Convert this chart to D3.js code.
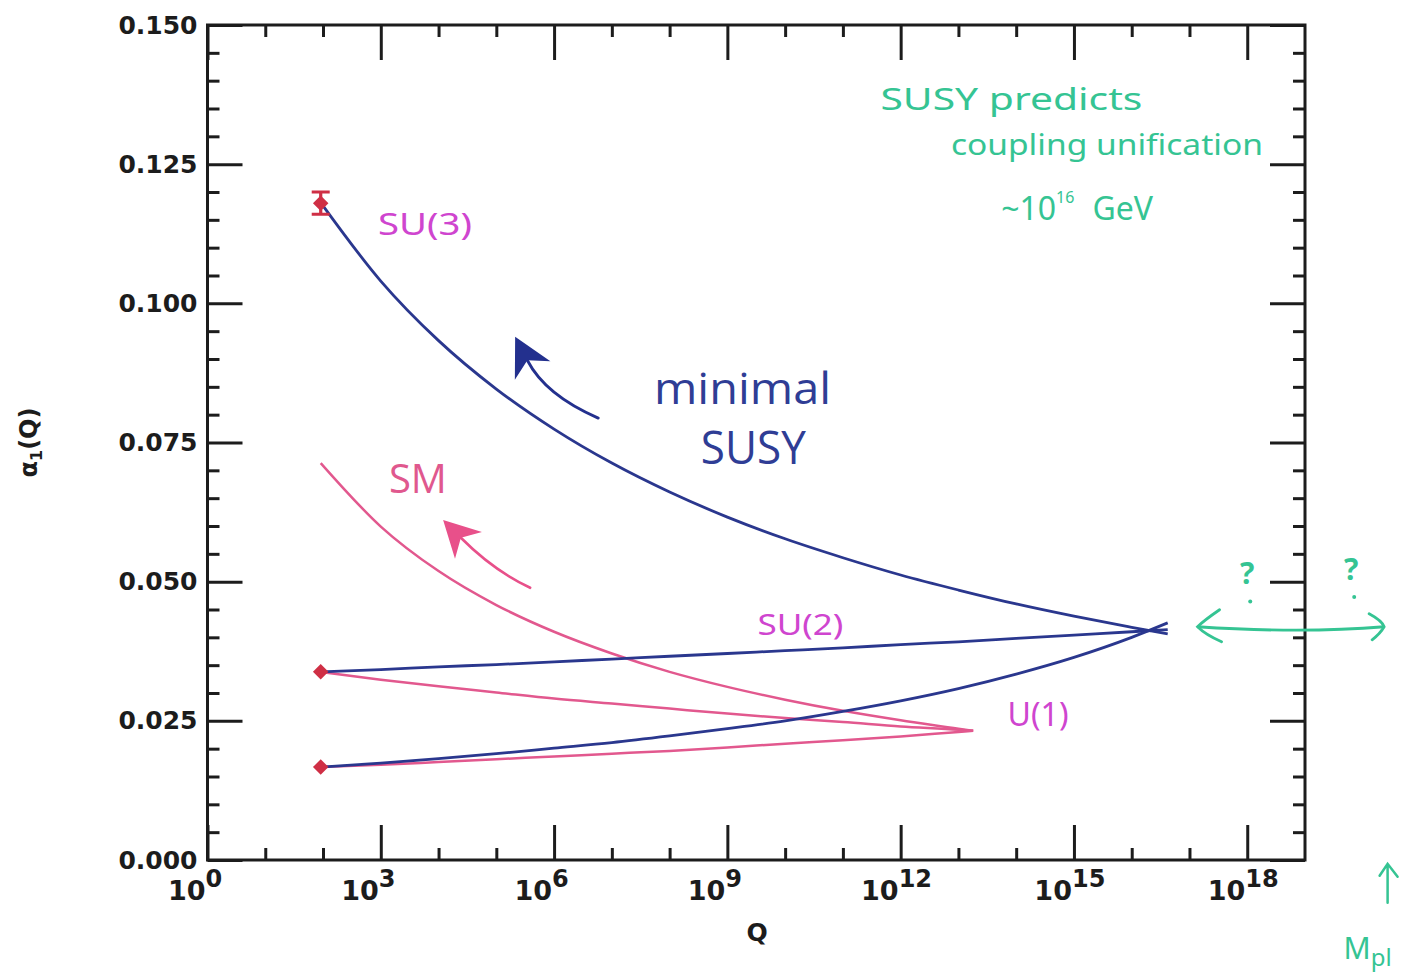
<!DOCTYPE html>
<html>
<head>
<meta charset="utf-8">
<script src="https://cdn.jsdelivr.net/npm/d3@7"></script>
<style>
  html, body { margin: 0; padding: 0; background: #fff; }
  svg { display: block; }
</style>
</head>
<body>
<svg id="chart" width="1405" height="977"></svg>
<script>
// ---- Running gauge couplings alpha_i(Q), Q in GeV ----
const susyQ = [91.2, 1e3, 1e4, 1e5, 1e6, 1e7, 1e8, 1e9, 1e10, 1e11, 1e12, 1e13, 1e14, 1e15, 1e16, 4.2e16];
const susyAlpha3 = [0.1181, 0.1040, 0.0933, 0.0846, 0.0774, 0.0713, 0.0661, 0.0616, 0.0577, 0.0543, 0.0512, 0.0485, 0.0460, 0.0438, 0.0418, 0.0406];
const susyAlpha2 = [0.0338, 0.0342, 0.0347, 0.0351, 0.0356, 0.0361, 0.0366, 0.0371, 0.0376, 0.0381, 0.0387, 0.0392, 0.0398, 0.0404, 0.0410, 0.0414];
const susyAlpha1 = [0.0167, 0.0174, 0.0182, 0.0191, 0.0201, 0.0211, 0.0223, 0.0236, 0.0250, 0.0267, 0.0286, 0.0308, 0.0334, 0.0364, 0.0400, 0.0426];

const smQ = [91.2, 1e3, 1e4, 1e5, 1e6, 1e7, 1e8, 1e9, 1e10, 1e11, 1e12, 1e13, 1.8e13];
const smAlpha3 = [0.0713, 0.0599, 0.0519, 0.0458, 0.0410, 0.0371, 0.0338, 0.0311, 0.0288, 0.0268, 0.0251, 0.0236, 0.0232];
const smAlpha2 = [0.0338, 0.0324, 0.0312, 0.0301, 0.0290, 0.0281, 0.0272, 0.0263, 0.0255, 0.0248, 0.0240, 0.0234, 0.0232];
const smAlpha1 = [0.0167, 0.0171, 0.0176, 0.0181, 0.0186, 0.0191, 0.0196, 0.0202, 0.0209, 0.0215, 0.0222, 0.0230, 0.0232];

// Measured values at M_Z
const mzQ = [91.2, 91.2, 91.2];
const mzAlpha = [0.118, 0.0338, 0.0167];
const mzError = [0.002, 0, 0];

// Axis ticks
const xMajorExp = [0, 3, 6, 9, 12, 15, 18];
const xMinorExp = [1, 2, 4, 5, 7, 8, 10, 11, 13, 14, 16, 17];
const yMajor = [0, 0.025, 0.05, 0.075, 0.1, 0.125, 0.15];
const yMinor = d3.range(0, 31).map(i => +(i * 0.005).toFixed(3)).filter(v => Math.round(v * 1000) % 25 !== 0);

// ---- Layout ----
const plot = { left: 207.5, right: 1305, top: 25, bottom: 860 };
const svg = d3.select("#chart");

const x = d3.scaleLog().domain([1, 1e19]).range([plot.left, plot.right]);
const y = d3.scaleLinear().domain([0, 0.15]).range([plot.bottom, plot.top]);
const px = (lq, a) => [x(Math.pow(10, lq)), y(a)];

const BLUE = "#2a378e";
const PINK = "#e2588e";
const RED = "#cf2f45";
const MAGENTA = "#cf45cf";
const GREEN = "#35c493";
const INK = "#1c1c1c";

// ---- Frame and ticks ----
function styleAxis(g) {
  g.select(".domain").remove();
  g.selectAll(".tick line").attr("stroke", INK).attr("stroke-width", 3);
}
const xMajor = xMajorExp.map(e => Math.pow(10, e));
const xMinor = xMinorExp.map(e => Math.pow(10, e));

svg.append("g").attr("transform", `translate(0,${plot.bottom})`)
  .call(d3.axisBottom(x).tickValues(xMajor).tickSize(-35).tickFormat("")).call(styleAxis);
svg.append("g").attr("transform", `translate(0,${plot.bottom})`)
  .call(d3.axisBottom(x).tickValues(xMinor).tickSize(-12).tickFormat("")).call(styleAxis);
svg.append("g").attr("transform", `translate(0,${plot.top})`)
  .call(d3.axisTop(x).tickValues(xMajor).tickSize(-35).tickFormat("")).call(styleAxis);
svg.append("g").attr("transform", `translate(0,${plot.top})`)
  .call(d3.axisTop(x).tickValues(xMinor).tickSize(-12).tickFormat("")).call(styleAxis);

const yLeft = svg.append("g").attr("transform", `translate(${plot.left},0)`)
  .call(d3.axisLeft(y).tickValues(yMajor).tickSize(-35).tickPadding(10).tickFormat(d3.format(".3f")))
  .call(styleAxis);
yLeft.selectAll(".tick text")
  .attr("fill", INK)
  .style("font-family", "'DejaVu Sans', sans-serif")
  .style("font-weight", "bold")
  .style("font-size", "25px");
svg.append("g").attr("transform", `translate(${plot.left},0)`)
  .call(d3.axisLeft(y).tickValues(yMinor).tickSize(-12).tickFormat("")).call(styleAxis);
svg.append("g").attr("transform", `translate(${plot.right},0)`)
  .call(d3.axisRight(y).tickValues(yMajor).tickSize(-35).tickFormat("")).call(styleAxis);
svg.append("g").attr("transform", `translate(${plot.right},0)`)
  .call(d3.axisRight(y).tickValues(yMinor).tickSize(-12).tickFormat("")).call(styleAxis);

svg.append("rect")
  .attr("x", plot.left).attr("y", plot.top)
  .attr("width", plot.right - plot.left).attr("height", plot.bottom - plot.top)
  .attr("fill", "none").attr("stroke", INK).attr("stroke-width", 3);

// x tick labels: 10^n
const xLab = svg.append("g")
  .style("font-family", "'DejaVu Sans', sans-serif")
  .style("font-weight", "bold")
  .attr("fill", INK);
xLab.selectAll("text.base").data(xMajorExp).join("text")
  .attr("class", "base")
  .attr("x", d => x(Math.pow(10, d)) - 2)
  .attr("y", 900)
  .attr("text-anchor", "end")
  .style("font-size", "27px")
  .text("10");
xLab.selectAll("text.exp").data(xMajorExp).join("text")
  .attr("class", "exp")
  .attr("x", d => x(Math.pow(10, d)) - 2)
  .attr("y", 887)
  .attr("text-anchor", "start")
  .style("font-size", "24px")
  .text(d => d);

// Axis titles
svg.append("text")
  .attr("x", (plot.left + plot.right) / 2 + 1).attr("y", 941)
  .attr("text-anchor", "middle")
  .attr("fill", INK)
  .style("font-family", "'DejaVu Sans', sans-serif")
  .style("font-weight", "bold").style("font-size", "25px")
  .text("Q");

const yTitle = svg.append("text")
  .attr("transform", `translate(29,${(plot.top + plot.bottom) / 2}) rotate(-90)`)
  .attr("text-anchor", "middle").attr("dy", "0.35em")
  .attr("fill", INK)
  .style("font-family", "'DejaVu Sans', sans-serif")
  .style("font-weight", "bold").style("font-size", "24px");
yTitle.append("tspan").text("α");
yTitle.append("tspan").attr("dy", "5").style("font-size", "16px").text("1");
yTitle.append("tspan").attr("dy", "-5").text("(Q)");

// ---- Coupling curves ----
const line = d3.line()
  .x(d => x(d[0]))
  .y(d => y(d[1]))
  .curve(d3.curveMonotoneX);

const curves = [
  { q: smQ, a: smAlpha3, color: PINK, w: 2.5 },
  { q: smQ, a: smAlpha2, color: PINK, w: 2.5 },
  { q: smQ, a: smAlpha1, color: PINK, w: 2.5 },
  { q: susyQ, a: susyAlpha3, color: BLUE, w: 2.8 },
  { q: susyQ, a: susyAlpha2, color: BLUE, w: 2.8 },
  { q: susyQ, a: susyAlpha1, color: BLUE, w: 2.8 }
];
svg.append("g").selectAll("path").data(curves).join("path")
  .attr("d", c => line(c.q.map((q, i) => [q, c.a[i]])))
  .attr("fill", "none")
  .attr("stroke", c => c.color)
  .attr("stroke-width", c => c.w)
  .attr("stroke-linejoin", "round");

// ---- Measurements at M_Z ----
const meas = mzQ.map((q, i) => ({ q, a: mzAlpha[i], e: mzError[i] }));
const mg = svg.append("g");
mg.selectAll("path.err").data(meas.filter(d => d.e > 0)).join("path")
  .attr("class", "err")
  .attr("d", d => {
    const cx = x(d.q), y0 = y(d.a - d.e), y1 = y(d.a + d.e);
    return `M${cx - 9},${y1}H${cx + 9}M${cx},${y1}V${y0}M${cx - 9},${y0}H${cx + 9}`;
  })
  .attr("stroke", RED).attr("stroke-width", 3.2).attr("fill", "none");
mg.selectAll("path.pt").data(meas).join("path")
  .attr("class", "pt")
  .attr("transform", d => `translate(${x(d.q)},${y(d.a)}) rotate(45)`)
  .attr("d", d3.symbol(d3.symbolSquare, 120))
  .attr("fill", RED);

// ---- Annotations ----
function arrow(tail, ctrl, tip, color, len, half, width) {
  const [tx, ty] = px(...tail), [cx, cy] = px(...ctrl), [hx, hy] = px(...tip);
  const ang = Math.atan2(hy - cy, hx - cx);
  const ux = Math.cos(ang), uy = Math.sin(ang);
  const bx = hx - ux * len, by = hy - uy * len;
  const nx = -uy, ny = ux;
  const mx = hx - ux * len * 0.7, my = hy - uy * len * 0.7;
  svg.append("path")
    .attr("d", `M${tx},${ty}Q${cx},${cy} ${mx},${my}`)
    .attr("fill", "none").attr("stroke", color).attr("stroke-width", width)
    .attr("stroke-linecap", "round");
  svg.append("path")
    .attr("d", `M${hx},${hy}L${bx + nx * half},${by + ny * half}L${mx},${my}L${bx - nx * half},${by - ny * half}Z`)
    .attr("fill", color);
}
arrow([6.764, 0.0794], [5.85, 0.0835], [5.326, 0.0940], "#23308e", 38, 20, 3);
arrow([5.586, 0.0489], [4.95, 0.0520], [4.079, 0.0611], "#e8508a", 36, 19, 2.6);

function label(lq, a, txt, color, size, len, family) {
  svg.append("text")
    .attr("x", px(lq, a)[0]).attr("y", px(lq, a)[1])
    .attr("fill", color)
    .attr("textLength", len).attr("lengthAdjust", "spacingAndGlyphs")
    .style("font-family", family || "'Open Sans', sans-serif")
    .style("font-size", size + "px")
    .text(txt);
}
label(7.73, 0.0820, "minimal", "#2f3d95", 44, 177);
label(8.54, 0.0711, "SUSY", "#2f3d95", 46, 105);
label(3.14, 0.0660, "SM", "#e0588e", 40, 58);

label(2.95, 0.1122, "SU(3)", MAGENTA, 30, 94, "'Noto Sans', sans-serif");
label(9.52, 0.0404, "SU(2)", MAGENTA, 29, 86, "'Noto Sans', sans-serif");
label(13.85, 0.0240, "U(1)", MAGENTA, 33, 61, "'Noto Sans', sans-serif");

// Note on unification (handwritten style)
const note = [
  { lq: 11.65, a: 0.1348, t: "SUSY predicts", len: 262, size: 31 },
  { lq: 12.87, a: 0.1266, t: "coupling unification", len: 312, size: 29 },
];
note.forEach(n => label(n.lq, n.a, n.t, GREEN, n.size, n.len, "'Noto Sans', sans-serif"));
const gev = svg.append("text")
  .attr("x", px(13.74, 0.1150)[0]).attr("y", px(13.74, 0.1150)[1])
  .attr("fill", GREEN)
  .style("font-family", "'Noto Sans', sans-serif").style("font-size", "32px");
gev.append("tspan").text("~10");
gev.append("tspan").attr("dy", -17).style("font-size", "16px").text("16");
gev.append("tspan").attr("dy", 17).attr("dx", 18).text("GeV");

// Double arrow beyond the unification point
const [gL, gy] = px(17.14, 0.0419);
const [gR] = px(20.37, 0.0419);
svg.append("path")
  .attr("d", `M${gL},${gy}C${gL + 60},${gy + 4} ${gR - 60},${gy + 5} ${gR},${gy}`)
  .attr("fill", "none").attr("stroke", GREEN).attr("stroke-width", 2.8);
svg.append("path")
  .attr("d", `M${gL + 22},${gy - 17}Q${gL + 6},${gy - 6} ${gL},${gy}Q${gL + 8},${gy + 8} ${gL + 24},${gy + 15}`
    + `M${gR - 15},${gy - 13}Q${gR - 2},${gy - 6} ${gR},${gy}Q${gR - 4},${gy + 7} ${gR - 12},${gy + 13}`)
  .attr("fill", "none").attr("stroke", GREEN).attr("stroke-width", 2.8).attr("stroke-linecap", "round");
[[18.0, 0.0495], [19.8, 0.0503]].forEach(([lq, a]) => {
  const [qx, qy] = px(lq, a);
  svg.append("text").attr("x", qx).attr("y", qy).attr("text-anchor", "middle")
    .attr("fill", GREEN).style("font-family", "'Noto Sans', sans-serif")
    .style("font-weight", "bold").style("font-size", "30px").text("?");
  svg.append("circle").attr("cx", qx + 3).attr("cy", qy + 17).attr("r", 2).attr("fill", GREEN);
});

// Planck mass marker
const [mx, myTop] = px(20.43, -0.0005);
svg.append("path")
  .attr("d", `M${mx},${myTop + 40}V${myTop + 2}M${mx - 8},${myTop + 13}L${mx},${myTop + 1}L${mx + 10},${myTop + 14}`)
  .attr("fill", "none").attr("stroke", GREEN).attr("stroke-width", 2.5).attr("stroke-linecap", "round");
const mpl = svg.append("text")
  .attr("x", mx - 44).attr("y", myTop + 96)
  .attr("fill", GREEN)
  .style("font-family", "'Noto Sans', sans-serif").style("font-size", "30px");
mpl.append("tspan").text("M");
mpl.append("tspan").attr("dy", 7).style("font-size", "24px").text("pl");
</script>
</body>
</html>
